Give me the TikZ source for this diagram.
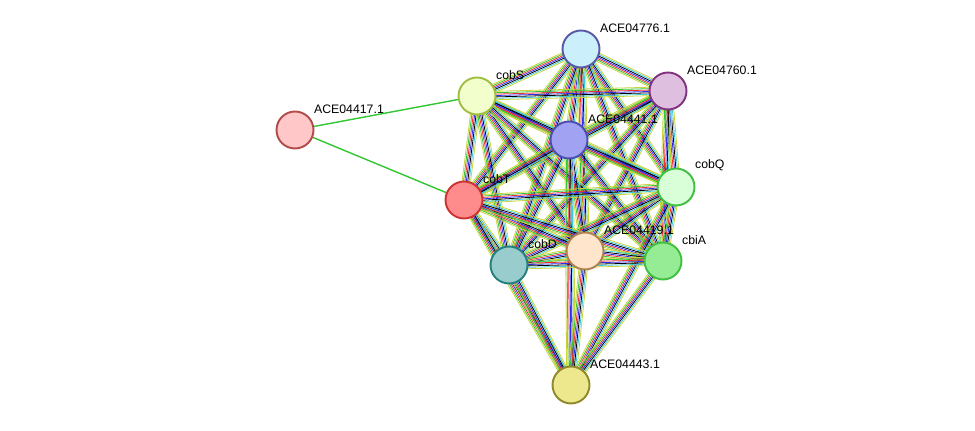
\documentclass[tikz,border=0pt]{standalone}
\usepackage{fontspec}
\setmainfont{Liberation Sans}
\usetikzlibrary{calc}
\definecolor{sgreen}{HTML}{33C633}
\definecolor{sred}{HTML}{F03030}
\definecolor{sblue}{HTML}{2D2DF0}
\definecolor{syel}{HTML}{C8D43A}
\definecolor{scyan}{HTML}{3FC8D8}
\tikzset{
  prot/.style={draw, circle, minimum size=0.74cm, line width=1.1pt, inner sep=0pt},
  lab/.style={font=\fontsize{7}{8}\selectfont, inner sep=1pt, anchor=south west},
}
% multicolour bundle between two proteins
\newcommand{\bundle}[2]{%
  \foreach \c [count=\i] in {syel,sgreen,sred,sblue,black,scyan,syel}{
    \draw[\c, line width=0.45pt] ($(#1)!{(\i-4)*0.8pt}!90:(#2)$) -- ($(#2)!{(\i-4)*0.8pt}!-90:(#1)$);
  }}
\begin{document}
\begin{tikzpicture}[x=0.02cm,y=-0.02cm]
\useasboundingbox (0,0) rectangle (975,431);
\coordinate (p776) at (581,49);
\coordinate (p760) at (668,91);
\coordinate (pcobS) at (477,96);
\coordinate (p417) at (295,130);
\coordinate (p441) at (569,140);
\coordinate (pcobQ) at (676,187);
\coordinate (pcobT) at (464,200);
\coordinate (p419) at (585,251);
\coordinate (pcbiA) at (663,261);
\coordinate (pcobD) at (509,265);
\coordinate (p443) at (571,385);

\draw[sgreen, line width=0.8pt] (p417) -- (pcobS);
\draw[sgreen, line width=0.8pt] (p417) -- (pcobT);
\foreach \a/\b in {p776/p760,p776/pcobS,p776/p441,p776/pcobQ,p776/pcobT,p776/p419,p776/pcbiA,p776/pcobD,
  p760/pcobS,p760/p441,p760/pcobQ,p760/pcobT,p760/p419,p760/pcbiA,p760/pcobD,
  pcobS/p441,pcobS/pcobQ,pcobS/pcobT,pcobS/p419,pcobS/pcbiA,pcobS/pcobD,
  p441/pcobQ,p441/pcobT,p441/p419,p441/pcbiA,p441/pcobD,p441/p443,
  pcobQ/pcobT,pcobQ/p419,pcobQ/pcbiA,pcobQ/pcobD,pcobQ/p443,
  pcobT/p419,pcobT/pcbiA,pcobT/pcobD,pcobT/p443,
  p419/pcbiA,p419/pcobD,p419/p443,pcbiA/pcobD,pcbiA/p443,pcobD/p443}{
  \bundle{\a}{\b}
}

\node[prot, draw=blue!30!gray, fill=cyan!20] (n776) at (p776) {};
\node[lab] at ($(p776)+(17,-14)$) {ACE04776.1};
\node[prot, draw=violet!60!gray, fill=violet!25] (n760) at (p760) {};
\node[lab] at ($(p760)+(17,-14)$) {ACE04760.1};
\node[prot, draw=lime!50!gray, fill=lime!20] (ncobS) at (pcobS) {};
\node[lab] at ($(pcobS)+(17,-14)$) {cobS};
\node[prot, draw=red!40!gray, fill=red!22] (n417) at (p417) {};
\node[lab] at ($(p417)+(17,-14)$) {ACE04417.1};
\node[prot, draw=blue!40!gray, fill=blue!35!white!90!gray] (n441) at (p441) {};
\node[lab] at ($(p441)+(17,-14)$) {ACE04441.1};
\node[prot, draw=green!50!gray, fill=green!15] (ncobQ) at (pcobQ) {};
\node[lab] at ($(pcobQ)+(17,-14)$) {cobQ};
\node[prot, draw=red!60!gray, fill=red!45] (ncobT) at (pcobT) {};
\node[lab] at ($(pcobT)+(17,-14)$) {cobT};
\node[prot, draw=orange!40!gray, fill=orange!20] (n419) at (p419) {};
\node[lab] at ($(p419)+(17,-14)$) {ACE04419.1};
\node[prot, draw=green!50!gray, fill=green!40!white!85!gray] (ncbiA) at (pcbiA) {};
\node[lab] at ($(pcbiA)+(17,-14)$) {cbiA};
\node[prot, draw=teal!70!gray, fill=teal!40] (ncobD) at (pcobD) {};
\node[lab] at ($(pcobD)+(17,-14)$) {cobD};
\node[prot, draw=olive!70!gray, fill=olive!40!yellow!40] (n443) at (p443) {};
\node[lab] at ($(p443)+(17,-14)$) {ACE04443.1};
\end{tikzpicture}
\end{document}
